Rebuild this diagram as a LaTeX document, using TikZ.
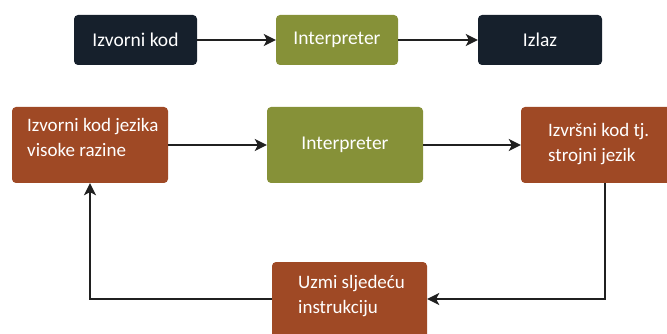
\documentclass[tikz,border=0pt]{standalone}
\usepackage{fontspec}
\setmainfont{Carlito}
\usetikzlibrary{arrows.meta}
\definecolor{navy}{HTML}{16202C}
\definecolor{olive}{HTML}{869138}
\definecolor{rust}{HTML}{9F4925}
\definecolor{linec}{HTML}{202020}
\tikzset{
  box/.style={rectangle, rounded corners=4pt, inner sep=0pt, text=white, font=\fontsize{19.5}{25}\selectfont},
  lbl/.style={inner sep=0pt, anchor=base west, text=white, font=\fontsize{19}{25}\selectfont},
  conn/.style={draw=linec, line width=1.6pt, -{Stealth[length=12pt,width=12pt,inset=3pt]}},
}
\begin{document}
\begin{tikzpicture}[x=1pt,y=-1pt]
\useasboundingbox (0,0) rectangle (667,334);
\clip (0,0) rectangle (667,334);
% top row
\node[box, fill=navy, minimum width=123pt, minimum height=50pt] (t1) at (135.5,40) {Izvorni kod};
\node[box, fill=olive, minimum width=122pt, minimum height=50pt] (t2) at (337,40) {Interpreter};
\node[box, fill=navy, minimum width=124pt, minimum height=50pt] (t3) at (540,40) {Izlaz};
\draw[conn] (t1.east) -- (t2.west);
\draw[conn] (t2.east) -- (t3.west);
% bottom
\node[box, fill=rust, minimum width=156pt, minimum height=76pt] (b1) at (90,145) {};
\node[box, fill=olive, minimum width=156pt, minimum height=76pt] (b2) at (345,145) {Interpreter};
\node[box, fill=rust, minimum width=170pt, minimum height=76pt] (b3) at (606,145) {};
\node[box, fill=rust, minimum width=155pt, minimum height=90pt] (b4) at (349.5,307) {};
\node[lbl] (l1a) at (27,132) {Izvorni kod jezika};
\node[lbl] (l1b) at (27,157) {visoke razine};
\node[lbl] (l3a) at (548,137) {Izvršni kod tj.};
\node[lbl] (l3b) at (548,162) {strojni jezik};
\node[lbl] (l4a) at (298,288) {Uzmi sljedeću};
\node[lbl] (l4b) at (298,313) {instrukciju};
\coordinate (c1) at (605,299);
\coordinate (c2) at (90,299);
\draw[conn] (b1.east) -- (b2.west);
\draw[conn] (b2.east) -- (b3.west);
\draw[conn] (b3.south -| c1) -- (c1) -- (b4.east |- c1);
\draw[conn] (b4.west |- c2) -- (c2) -- (b1.south);
\end{tikzpicture}
\end{document}
